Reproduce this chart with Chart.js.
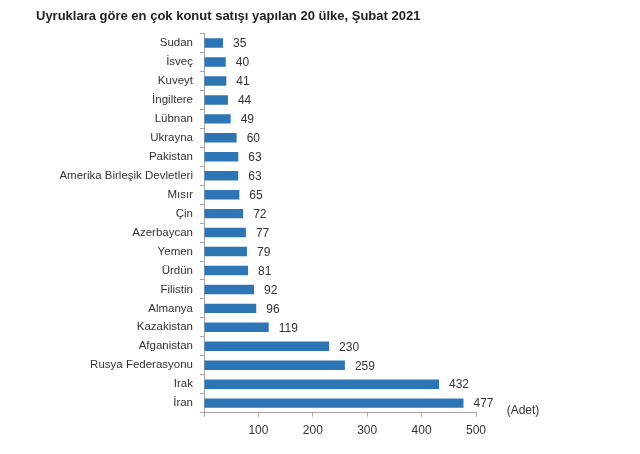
<!DOCTYPE html>
<html>
<head>
<meta charset="utf-8">
<script src="https://cdn.jsdelivr.net/npm/chart.js@4/dist/chart.umd.min.js"></script>
<style>
  html, body { margin: 0; padding: 0; background: #fff; }
  #wrap { width: 640px; height: 454px; }
</style>
</head>
<body>
<div id="wrap"><canvas id="c" width="640" height="454"></canvas></div>
<script>
const countries = ['Sudan', 'İsveç', 'Kuveyt', 'İngiltere', 'Lübnan', 'Ukrayna', 'Pakistan',
  'Amerika Birleşik Devletleri', 'Mısır', 'Çin', 'Azerbaycan', 'Yemen', 'Ürdün', 'Filistin',
  'Almanya', 'Kazakistan', 'Afganistan', 'Rusya Federasyonu', 'Irak', 'İran'];
const sales = [35, 40, 41, 44, 49, 60, 63, 63, 65, 72, 77, 79, 81, 92, 96, 119, 230, 259, 432, 477];
const xTicks = [0, 100, 200, 300, 400, 500];

const FONT = 'Arial, "Liberation Sans", sans-serif';

// value labels at the end of each bar + unit note
const valueLabels = {
  id: 'valueLabels',
  afterDatasetsDraw(chart) {
    const ctx = chart.ctx;
    const meta = chart.getDatasetMeta(0);
    ctx.save();
    ctx.font = '12px ' + FONT;
    ctx.fillStyle = '#333';
    ctx.textAlign = 'left';
    ctx.textBaseline = 'middle';
    meta.data.forEach((bar, i) => {
      ctx.fillText(String(sales[i]), bar.x + 10, bar.y + 1);
    });
    const a = chart.chartArea;
    ctx.textAlign = 'center';
    ctx.fillText('(Adet)', a.right + 47, a.bottom - 2);
    ctx.restore();
  }
};

new Chart(document.getElementById('c'), {
  type: 'bar',
  data: {
    labels: countries,
    datasets: [{
      data: sales,
      backgroundColor: '#2e75b6',
      borderWidth: 0,
      categoryPercentage: 1,
      barPercentage: 0.5
    }]
  },
  options: {
    indexAxis: 'y',
    responsive: false,
    animation: false,
    layout: { padding: { left: 36, right: 164, top: 7, bottom: 9 } },
    plugins: {
      legend: { display: false },
      tooltip: { enabled: false },
      title: {
        display: true,
        text: 'Uyruklara göre en çok konut satışı yapılan 20 ülke, Şubat 2021',
        align: 'start',
        color: '#222',
        font: { family: FONT, size: 13, weight: 'bold' },
        padding: { top: 2, bottom: 9 }
      }
    },
    scales: {
      x: {
        min: 0,
        max: 500,
        afterBuildTicks(scale) { scale.ticks = xTicks.map(v => ({ value: v })); },
        border: { color: '#a6a6a6' },
        grid: { drawOnChartArea: false, tickLength: 4, color: '#a6a6a6' },
        ticks: {
          padding: 7,
          color: '#333',
          font: { family: FONT, size: 12 },
          callback: v => (v === 0 ? '' : v)
        }
      },
      y: {
        afterFit(scale) { scale.width = 168; },
        border: { color: '#a6a6a6' },
        grid: { drawOnChartArea: false, tickLength: 4, color: '#a6a6a6', offset: true },
        ticks: {
          padding: 7,
          color: '#333',
          font: { family: FONT, size: 11.5 }
        }
      }
    }
  },
  plugins: [valueLabels]
});
</script>
</body>
</html>
